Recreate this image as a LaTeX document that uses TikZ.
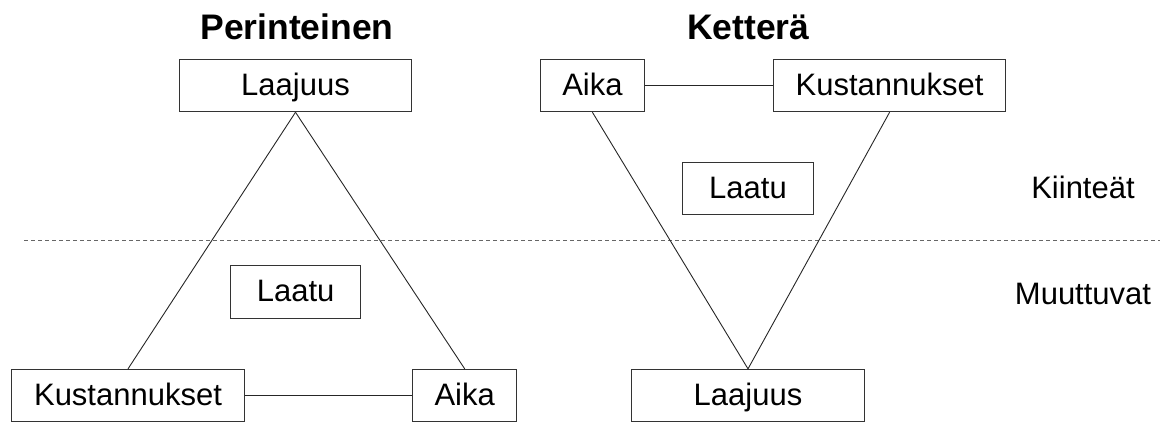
\documentclass[tikz,border=0pt]{standalone}
\usepackage{fontspec}
\setmainfont{Liberation Sans}
\begin{document}
\begin{tikzpicture}[x=1pt,y=-1pt,
  box/.style={draw=black!80, line width=1pt, inner sep=0pt, text height=23pt, text depth=4pt,
    minimum height=52.5pt, font=\fontsize{31}{36}\selectfont},
  wide/.style={minimum width=232.6pt},
  narrow/.style={minimum width=104.2pt},
  mid/.style={minimum width=130.3pt},
  link/.style={draw=black!85, line width=0.9pt},
  sep/.style={draw=black!60, line width=1pt, dash pattern=on 4pt off 3pt},
  title/.style={font=\bfseries\fontsize{35.5}{40}\selectfont, anchor=base},
  side/.style={font=\fontsize{31}{36}\selectfont, anchor=base}]
\useasboundingbox (0,0) rectangle (1170,421);

% separator
\coordinate (d1) at (24,240.7);
\coordinate (d2) at (1160,240.7);
\draw[sep] (d1) -- (d2);

% titles
\node[title] (t1) at (297,39.3) {Perinteinen};
\node[title] (t2) at (748.3,39.3) {Ketterä};

% left (traditional)
\node[box, wide] (lt) at (295.5,85.5) {Laajuus};
\node[box, mid] (lq) at (295.7,292.2) {Laatu};
\node[box, wide] (lk) at (128,395.6) {Kustannukset};
\node[box, narrow] (la) at (464.7,395.6) {Aika};

% right (agile)
\node[box, narrow] (ra) at (592.4,85.5) {Aika};
\node[box, wide] (rk) at (889.6,85.5) {Kustannukset};
\node[box, mid] (rq) at (748,188.5) {Laatu};
\node[box, wide] (rl) at (748,395.6) {Laajuus};

% side labels
\node[side] (s1) at (1083,198) {Kiinteät};
\node[side] (s2) at (1083,304) {Muuttuvat};

% connectors
\draw[link] (lt.south) -- (lk.north);
\draw[link] (lt.south) -- (la.north);
\draw[link] (lk.east) -- (la.west);
\draw[link] (ra.east) -- (rk.west);
\draw[link] (ra.south) -- (rl.north);
\draw[link] (rk.south) -- (rl.north);
\end{tikzpicture}
\end{document}
